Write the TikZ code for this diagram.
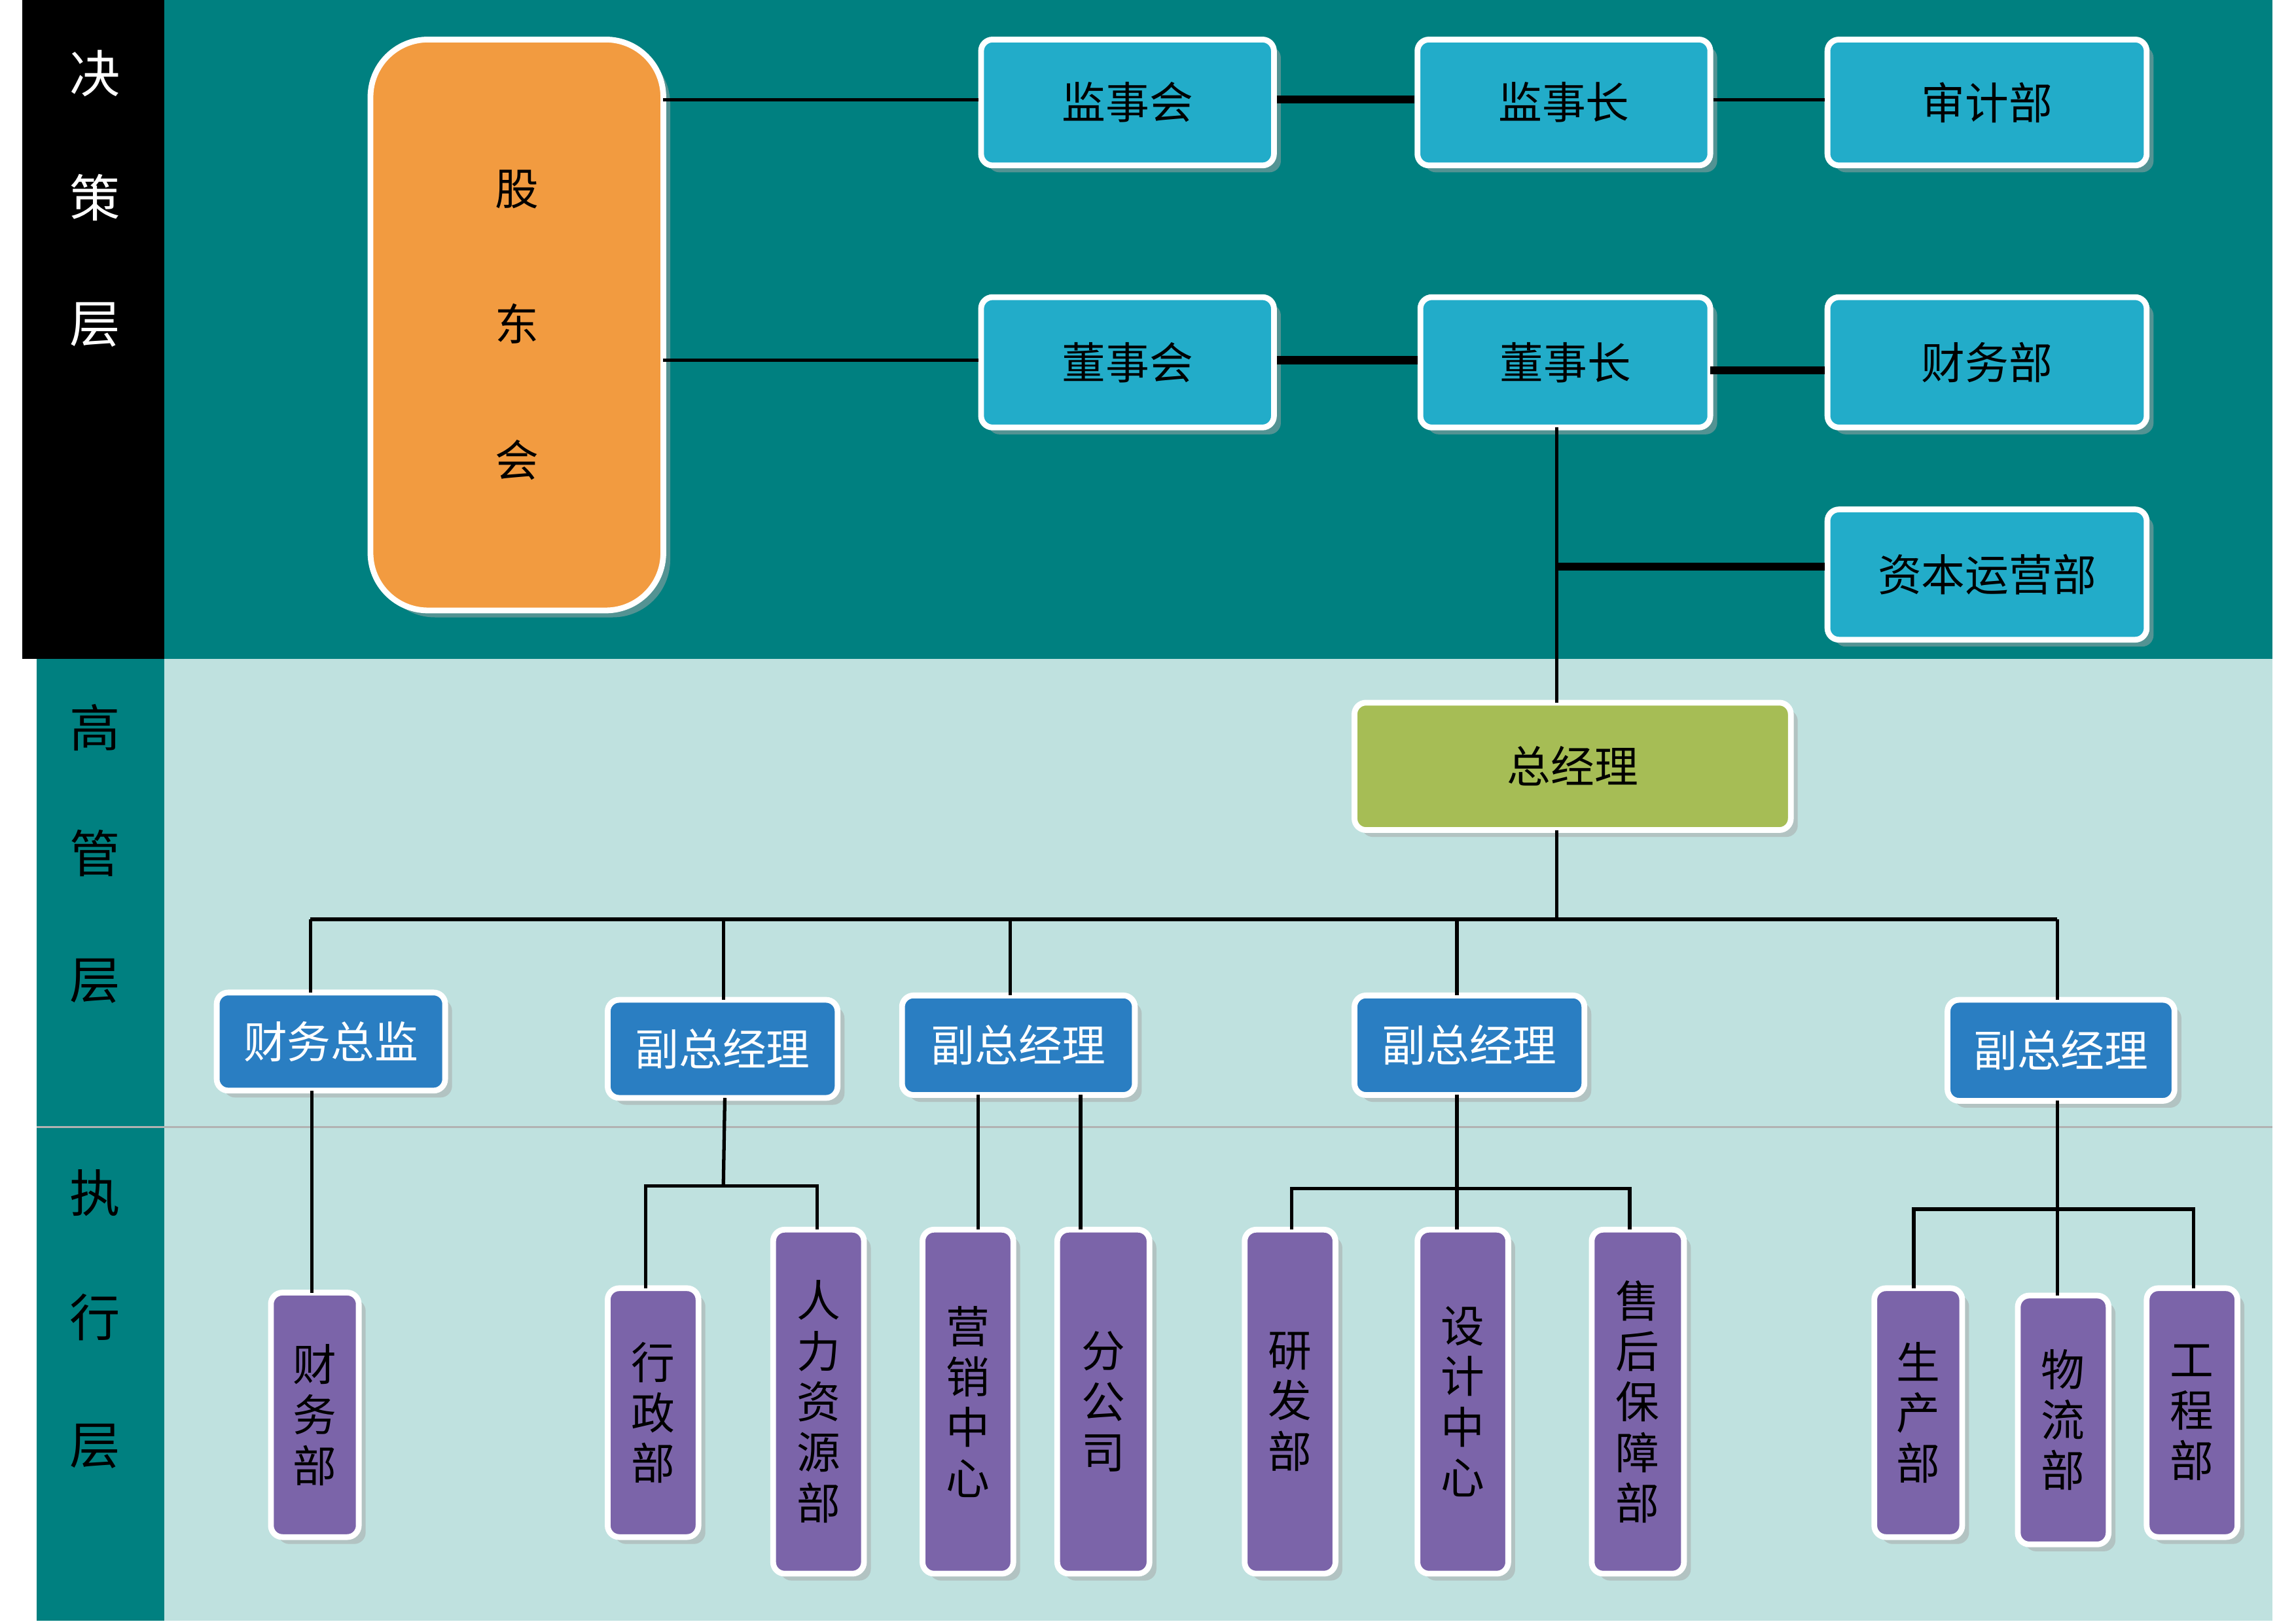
\documentclass[tikz,border=0pt]{standalone}
\usepackage{fontspec}
\setmainfont{Noto Sans CJK SC}
\usetikzlibrary{shadows}
\definecolor{teal1}{HTML}{008080}
\definecolor{light}{HTML}{BFE1DF}
\definecolor{cyanb}{HTML}{22ACC9}
\definecolor{blueb}{HTML}{2A7EC2}
\definecolor{purp}{HTML}{7B64A9}
\definecolor{orng}{HTML}{F29B40}
\definecolor{grn}{HTML}{A6BD55}
\newcommand{\bx}[7]{\node[#6,minimum width={(#4-#2)*0.02237cm},minimum height={(#5-#3)*0.02237cm}] (#1) at ({(#2+#4)/2},{(#3+#5)/2}) {#7};}
\tikzset{
 base/.style={draw=white,line width=2.5pt,rounded corners=5pt,inner sep=0pt,drop shadow={shadow xshift=3pt,shadow yshift=-3pt,fill=gray!70},font=\fontsize{19}{22}\selectfont,align=center},
 cy/.style={base,fill=cyanb},
 bl/.style={base,fill=blueb,text=white},
 pu/.style={base,fill=purp},
 og/.style={base,fill=orng,rounded corners=25pt},
 gr/.style={base,fill=grn},
 ln/.style={line width=1.5pt},
 tk/.style={line width=3.5pt},
 lab/.style={font=\fontsize{22}{26}\selectfont}
}
\begin{document}
\begin{tikzpicture}[x=0.02237cm,y=-0.02237cm]
\useasboundingbox (0,0) rectangle (1568,1109);
\fill[white] (0,0) rectangle (1568,1109);
\fill[teal1] (15,0) rectangle (1552,450);
\fill[black] (15,0) rectangle (112,450);
\fill[light] (25,450) rectangle (1552,1107);
\fill[teal1] (25,450) rectangle (112,1107);
\draw[gray!60,line width=1pt] (25,770) -- (1552,770);
\node[lab,text=white] (l1) at (65,50) {决};
\node[lab,text=white] (l2) at (65,135) {策};
\node[lab,text=white] (l3) at (65,222) {层};
\node[lab] (l4) at (65,497) {高};
\node[lab] (l5) at (65,583) {管};
\node[lab] (l6) at (65,670) {层};
\node[lab] (l7) at (65,815) {执};
\node[lab] (l8) at (65,900) {行};
\node[lab] (l9) at (65,988) {层};
% top
\bx{gd}{253}{27}{453}{417}{og}{股\\[1.3cm]东\\[1.3cm]会}
\bx{jsh}{670}{27}{870}{113}{cy}{监事会}
\bx{jsz}{968}{27}{1168}{113}{cy}{监事长}
\bx{sjb}{1248}{27}{1466}{113}{cy}{审计部}
\bx{dsh}{670}{203}{870}{292}{cy}{董事会}
\bx{dsz}{970}{203}{1168}{292}{cy}{董事长}
\bx{cwb}{1248}{203}{1466}{292}{cy}{财务部}
\bx{zbb}{1248}{348}{1466}{437}{cy}{资本运营部}
\bx{zjl}{925}{480}{1223}{567}{gr}{总经理}
% second row
\bx{cwzj}{148}{678}{304}{745}{bl}{财务总监}
\bx{f1}{415}{683}{572}{750}{bl}{副总经理}
\bx{f2}{616}{680}{775}{748}{bl}{副总经理}
\bx{f3}{925}{680}{1082}{748}{bl}{副总经理}
\bx{f4}{1330}{683}{1485}{752}{bl}{副总经理}
% purple
\bx{p1}{185}{883}{245}{1050}{pu}{财\\务\\部}
\bx{p2}{415}{880}{477}{1050}{pu}{行\\政\\部}
\bx{p3}{528}{840}{590}{1075}{pu}{人\\力\\资\\源\\部}
\bx{p4}{630}{840}{692}{1075}{pu}{营\\销\\中\\心}
\bx{p5}{722}{840}{785}{1075}{pu}{分\\公\\司}
\bx{p6}{850}{840}{912}{1075}{pu}{研\\发\\部}
\bx{p7}{968}{840}{1030}{1075}{pu}{设\\计\\中\\心}
\bx{p8}{1087}{840}{1150}{1075}{pu}{售\\后\\保\\障\\部}
\bx{p9}{1280}{880}{1340}{1050}{pu}{生\\产\\部}
\bx{p10}{1378}{885}{1440}{1055}{pu}{物\\流\\部}
\bx{p11}{1466}{880}{1528}{1050}{pu}{工\\程\\部}
% connectors top
\coordinate (g1) at (453,68); \coordinate (g2) at (453,246);
\draw[ln] (g1) -- (jsh.west |- g1);
\draw[ln] (g2) -- (dsh.west |- g2);
\draw[tk] (jsh.east |- g1) -- (jsz.west |- g1);
\draw[ln] (jsz.east |- g1) -- (sjb.west |- g1);
\draw[tk] (dsh.east |- g2) -- (dsz.west |- g2);
\coordinate (c3) at (1168,253);
\draw[tk] (c3) -- (cwb.west |- c3);
\coordinate (t0) at (1063,292); \coordinate (t1) at (1063,480); \coordinate (t2) at (1063,387);
\draw[ln] (t0) -- (t1);
\draw[tk] (t2) -- (zbb.west |- t2);
% bus
\coordinate (b0) at (1063,567); \coordinate (b1) at (1063,628);
\coordinate (bl) at (212,628); \coordinate (br) at (1405,628);
\draw[ln] (b0) -- (b1);
\draw[ln] (bl) -- (br);
\draw[ln] (bl) -- (212,678);
\draw[ln] (494,628) -- (494,683);
\draw[ln] (690,628) -- (690,680);
\draw[ln] (995,628) -- (995,680);
\draw[ln] (1405,628) -- (1405,683);
% lower
\draw[ln] (213,745) -- (213,883);
\draw[ln] (495,750) -- (494,810);
\draw[ln] (441,880) -- (441,810) -- (558,810) -- (558,840);
\draw[ln] (668,748) -- (668,840);
\draw[ln] (738,748) -- (738,840);
\draw[ln] (995,748) -- (995,840);
\draw[ln] (882,840) -- (882,812) -- (1113,812) -- (1113,840);
\draw[ln] (1405,752) -- (1405,885);
\draw[ln] (1307,880) -- (1307,826) -- (1498,826) -- (1498,880);
\end{tikzpicture}
\end{document}
